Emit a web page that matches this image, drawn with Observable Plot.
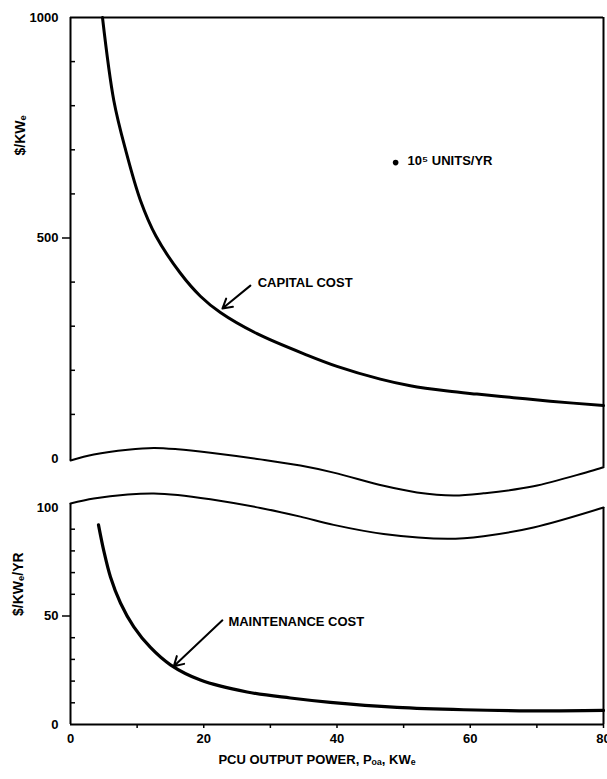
<!DOCTYPE html>
<html><head><meta charset="utf-8">
<script src="https://cdn.jsdelivr.net/npm/d3@7"></script>
<script src="https://cdn.jsdelivr.net/npm/@observablehq/plot@0.6"></script>
<style>
html,body{margin:0;padding:0;background:#fff;}
#chart{position:relative;width:607px;height:779px;overflow:hidden;}
#chart svg{position:absolute;left:0;}
</style></head><body><div id="chart"></div>
<script>
// Capital cost ($/KWe) vs PCU output power (KWe)
const capitalX = [4.8, 6.5, 8.3, 10.5, 12.8, 16.5, 19.5, 22.5, 28, 35.6, 40, 46.5, 51, 56.6, 61, 66.5, 72, 80];
const capitalY = [1000, 812, 698, 585, 505, 420, 368, 331, 283, 234, 209, 180, 165, 153, 146, 138, 130, 120];
// Maintenance cost ($/KWe/YR)
const maintX = [4.2, 5, 6, 7.5, 9.5, 12, 15, 19.5, 26.5, 33, 39, 49, 59, 69, 80];
const maintY = [92, 80, 68, 56, 45, 35.5, 27.5, 20.5, 15, 12.2, 10.2, 7.9, 6.8, 6.3, 6.5];
// Axis-break wave lines (top panel units / bottom panel units)
const waveTopX = [0, 3.5, 8.6, 12.5, 16.1, 21, 28.5, 34.5, 39.5, 47, 52, 57.5, 62, 69.5, 80];
const waveTopY = [-4.5, 9, 20, 24, 21, 13, -2, -16, -32, -62, -77, -84, -79, -63, -20];
const waveBotX = [0, 3.5, 8.6, 12.5, 16.1, 21, 28.5, 34.5, 39.5, 47, 56.6, 62, 69.5, 80];
const waveBotY = [101.8, 104.1, 106, 106.5, 105.8, 103.8, 99.8, 95.8, 92, 87.8, 85.6, 86.8, 90.8, 100];
// Ticks
const xTickLabels = [0, 20, 40, 60, 80];
const xTickMarks = [10, 20, 30, 40, 50, 60, 70, 80];
const topTickLabels = [0, 1000];
const topTickMajor = [500];
const topTickMinor = [100, 200, 300, 400, 600, 700, 800, 900];
const botTickLabels = [0, 100];
const botTickMajor = [50];
const botTickMinor = [10, 20, 30, 40, 60, 70, 80, 90];
// Annotations
const capLabel = [{x: 28.1, y: 399, text: "CAPITAL COST"}];
const capArrow = [{x1: 27, y1: 392, x2: 22.8, y2: 340}];
const unitsDot = [{x: 48.8, y: 671}];
const unitsLabel = [{x: 50.6, y: 676, text: "10\u2075 UNITS/YR"}];
const maintLabel = [{x: 23.7, y: 47.5, text: "MAINTENANCE COST"}];
const maintArrow = [{x1: 22.8, y1: 48, x2: 15.5, y2: 26.8}];
const topYLabel = [{y: 687, text: "$/KW\u2091"}];
const botYLabel = [{y: 50, text: "$/KW\u2091/YR"}];
const xLabel = [{x: 37, text: "PCU OUTPUT POWER, P\u2092\u2090, KW\u2091"}];

const capital = capitalX.map((x, i) => ({x, y: capitalY[i]}));
const maint = maintX.map((x, i) => ({x, y: maintY[i]}));
const waveTop = waveTopX.map((x, i) => ({x, y: waveTopY[i]}));
const waveBot = waveBotX.map((x, i) => ({x, y: waveBotY[i]}));

const fmt = d => String(d);
const style = {background: "transparent", overflow: "visible", fontFamily: "'Liberation Sans', Arial, sans-serif", fontSize: "13px", fontWeight: "bold", color: "black"};

const topPlot = Plot.plot({
  width: 607, height: 500, marginLeft: 70, marginRight: 4, marginTop: 17, marginBottom: 42,
  style,
  x: {domain: [0, 80], axis: null},
  y: {domain: [0, 1000]},
  marks: [
    Plot.ruleY([1000], {strokeWidth: 2}),
    Plot.ruleX([0], {y1: -4.5, y2: 1000, strokeWidth: 2}),
    Plot.ruleX([80], {y1: -20, y2: 1000, strokeWidth: 2}),
    Plot.line(waveTop, {x: "x", y: "y", curve: "catmull-rom", strokeWidth: 2}),
    Plot.axisY(topTickMajor, {tickSize: 8, tickPadding: 4, tickFormat: fmt, strokeWidth: 1.5, label: null}),
    Plot.axisY(topTickLabels, {tickSize: 0, tickPadding: 12, tickFormat: fmt, label: null}),
    Plot.axisY(topTickMinor, {tickSize: 5, dx: 5, text: null, strokeWidth: 1.5, label: null}),
    Plot.line(capital, {x: "x", y: "y", curve: "catmull-rom", strokeWidth: 3}),
    Plot.arrow(capArrow, {x1: "x1", y1: "y1", x2: "x2", y2: "y2", strokeWidth: 2, headLength: 8, bend: 0}),
    Plot.text(capLabel, {x: "x", y: "y", text: "text", textAnchor: "start", fontWeight: "bold", fontSize: 13}),
    Plot.dot(unitsDot, {x: "x", y: "y", r: 2.8, fill: "black"}),
    Plot.text(unitsLabel, {x: "x", y: "y", text: "text", textAnchor: "start", fontWeight: "bold", fontSize: 13}),
    Plot.text(topYLabel, {y: "y", text: "text", frameAnchor: "left", dx: -50, rotate: -90, fontWeight: "bold", fontSize: 14})
  ]
});
topPlot.style.top = "0px";

const botPlot = Plot.plot({
  width: 607, height: 299, marginLeft: 70, marginRight: 4, marginTop: 27, marginBottom: 55,
  style,
  x: {domain: [0, 80]},
  y: {domain: [0, 100]},
  marks: [
    Plot.ruleY([0], {strokeWidth: 2}),
    Plot.ruleX([0], {y1: 0, y2: 101.8, strokeWidth: 2}),
    Plot.ruleX([80], {y1: 0, y2: 100, strokeWidth: 2}),
    Plot.line(waveBot, {x: "x", y: "y", curve: "catmull-rom", strokeWidth: 2}),
    Plot.axisY(botTickMajor, {tickSize: 8, tickPadding: 4, tickFormat: fmt, strokeWidth: 1.5, label: null}),
    Plot.axisY(botTickLabels, {tickSize: 0, tickPadding: 12, tickFormat: fmt, label: null}),
    Plot.axisY(botTickMinor, {tickSize: 5, dx: 5, text: null, strokeWidth: 1.5, label: null}),
    Plot.axisX(xTickMarks, {tickSize: 4, text: null, strokeWidth: 1.5, label: null}),
    Plot.axisX(xTickLabels, {tickSize: 0, tickPadding: 9, tickFormat: fmt, label: null}),
    Plot.line(maint, {x: "x", y: "y", curve: "catmull-rom", strokeWidth: 3.2}),
    Plot.arrow(maintArrow, {x1: "x1", y1: "y1", x2: "x2", y2: "y2", strokeWidth: 2, headLength: 8, bend: 0}),
    Plot.text(maintLabel, {x: "x", y: "y", text: "text", textAnchor: "start", fontWeight: "bold", fontSize: 13}),
    Plot.text(botYLabel, {y: "y", text: "text", frameAnchor: "left", dx: -52, rotate: -90, fontWeight: "bold", fontSize: 14}),
    Plot.text(xLabel, {x: "x", text: "text", frameAnchor: "bottom", dy: 39, fontWeight: "bold", fontSize: 13})
  ]
});
botPlot.style.top = "480px";

const chart = document.getElementById("chart");
chart.append(topPlot, botPlot);
</script>
</body></html>
